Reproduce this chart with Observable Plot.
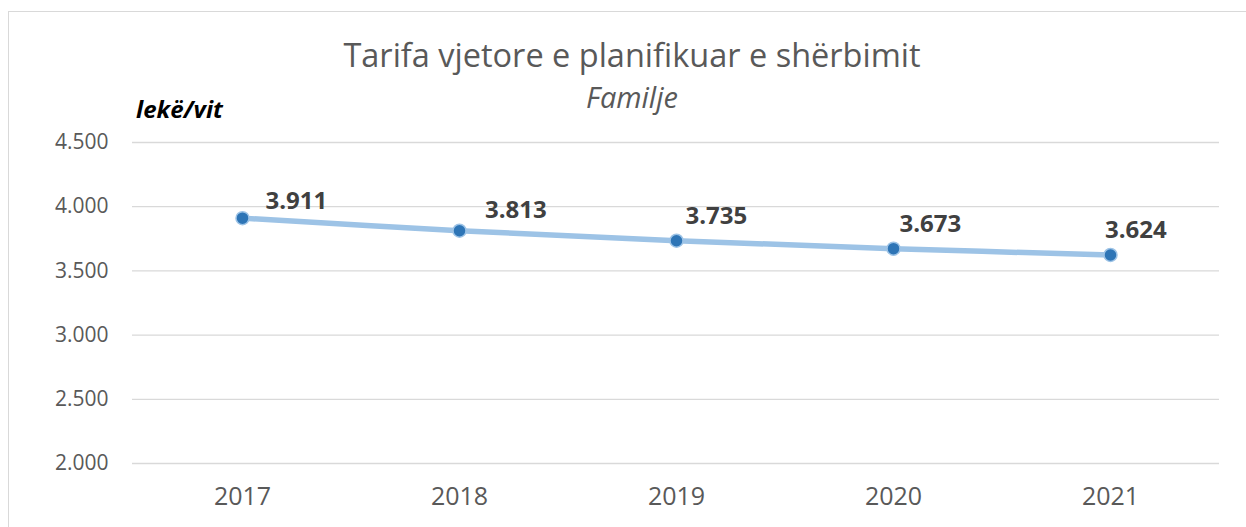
<!DOCTYPE html>
<html>
<head>
<meta charset="utf-8">
<script src="https://cdn.jsdelivr.net/npm/d3@7"></script>
<script src="https://cdn.jsdelivr.net/npm/@observablehq/plot@0.6"></script>
<style>
  html, body { margin: 0; padding: 0; background: #fff; }
  body { width: 1246px; height: 527px; position: relative; overflow: hidden; font-family: "Open Sans", sans-serif; }
  #frame { position: absolute; left: 8px; top: 11px; width: 1250px; height: 530px; border: 1px solid #d9d9d9; box-sizing: border-box; }
  #title { position: absolute; left: 0; width: 1264px; top: 39px; text-align: center; font-size: 32.5px; color: #595959; line-height: 1; white-space: nowrap; }
  #subtitle { position: absolute; left: 0; width: 1264px; top: 82px; text-align: center; font-size: 29px; font-style: italic; color: #595959; line-height: 1; }
  #unit { position: absolute; left: 136px; top: 97px; font-size: 24px; font-style: italic; font-weight: bold; color: #000; line-height: 1; }
  #chart { position: absolute; left: 0; top: 0; }
</style>
</head>
<body>
<div id="frame"></div>
<div id="title">Tarifa vjetore e planifikuar e shërbimit</div>
<div id="subtitle">Familje</div>
<div id="unit">lekë/vit</div>
<div id="chart"></div>
<script>
const years = ["2017", "2018", "2019", "2020", "2021"];
const values = [3911, 3813, 3735, 3673, 3624];
const yTicks = [2000, 2500, 3000, 3500, 4000, 4500];

const data = years.map((y, i) => ({year: y, value: values[i]}));
const fmt = d3.formatLocale({decimal: ",", thousands: ".", grouping: [3]}).format(",");

// Label placement (as in the original chart, labels were nudged individually)
function label(i, dx, dy) {
  return Plot.text(data, {
    filter: (d, j) => j === i,
    x: "year", y: "value", text: d => fmt(d.value),
    dx, dy, textAnchor: "start", fontSize: 24, fontWeight: "bold", fill: "#404040"
  });
}

const plot = Plot.plot({
  width: 1246,
  height: 527,
  marginTop: 142,
  marginBottom: 64,
  marginLeft: 132,
  marginRight: 27,
  style: {fontFamily: "Open Sans, sans-serif", background: "transparent", overflow: "visible"},
  x: {type: "point", domain: years, padding: 0.5, label: null},
  y: {domain: [2000, 4500], ticks: yTicks, label: null},
  marks: [
    Plot.gridY(yTicks, {stroke: "#d9d9d9", strokeOpacity: 1, strokeWidth: 1.3}),
    Plot.axisY(yTicks, {tickSize: 0, tickPadding: 24, tickFormat: fmt, fontSize: 21, fill: "#595959", label: null}),
    Plot.axisX({tickSize: 0, tickPadding: 24, fontSize: 25, fill: "#595959", label: null}),
    Plot.line(data, {x: "year", y: "value", stroke: "#9dc3e6", strokeWidth: 5.5, curve: "catmull-rom"}),
    Plot.dot(data, {x: "year", y: "value", r: 6.5, fill: "#2e75b6", stroke: "#9dc3e6", strokeWidth: 1.5}),
    label(0, 23, -17),
    label(1, 25.5, -20.5),
    label(2, 9, -24.5),
    label(3, 6, -24.5),
    label(4, -5.5, -24.5)
  ]
});
document.getElementById("chart").appendChild(plot);
</script>
</body>
</html>
